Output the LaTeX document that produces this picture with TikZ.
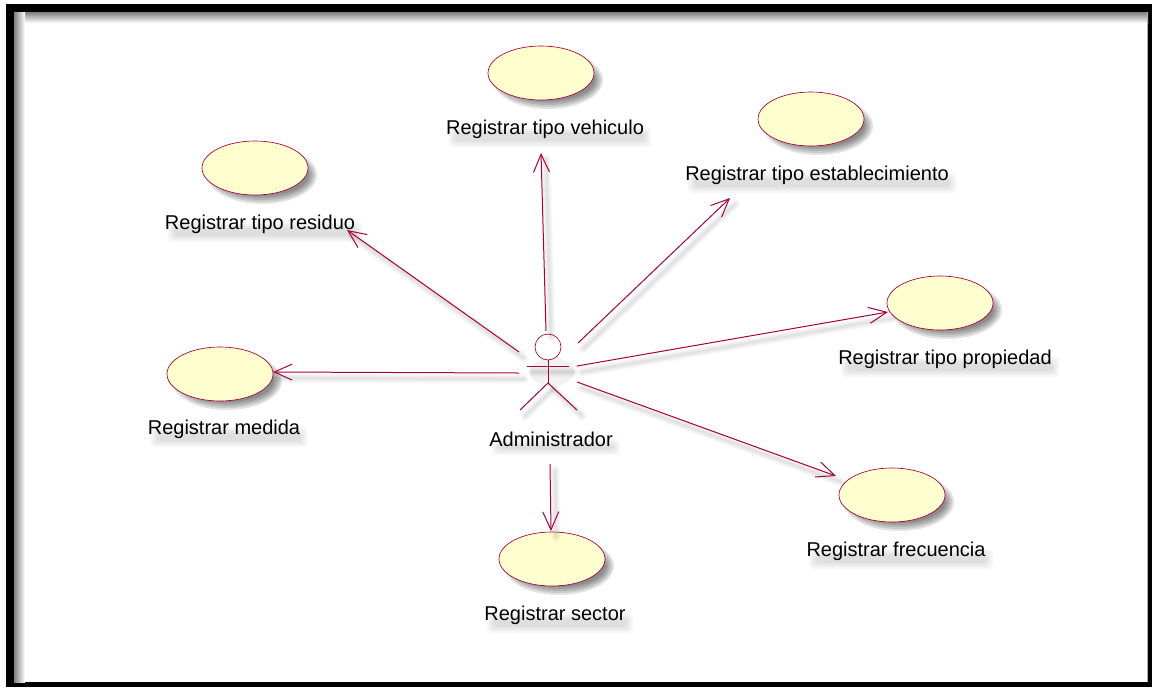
\documentclass[tikz,border=0pt]{standalone}
\usepackage{fontspec}
\setmainfont{Liberation Sans}
\usetikzlibrary{arrows.meta,shapes.geometric,calc}
\definecolor{umlline}{HTML}{A80036}
\definecolor{umlfill}{HTML}{FEFECE}
\tikzset{
  x=0.75pt,y=-0.75pt,
  usecase/.style={ellipse,draw=umlline,line width=0.5pt,fill=umlfill,minimum width=79.5pt,minimum height=40.5pt,inner sep=0pt},
  lab/.style={inner sep=0pt,font=\fontsize{15pt}{17pt}\selectfont,text=black},
  assoc/.style={draw=umlline,line width=0.75pt,-{Straight Barb[length=13.5pt,width=12pt,line width=0.75pt]}},
  stick/.style={draw=umlline,line width=0.75pt},
  soft/.style={draw=black,opacity=0.025,line cap=round}
}
\newcommand{\softline}[2]{%
  \foreach \w in {1,2.5,4,5.5,7}{\draw[soft,line width=\w pt] ([shift={(5,6)}]#1) -- ([shift={(5,6)}]#2);}}
\newcommand{\softoval}[1]{%
  \foreach \d in {0,-2,-4,-6,-8}{\fill[black,opacity=0.11] ($(#1)+(7,7)$) ellipse [x radius={53+\d+2},y radius={27+\d+2}];}}
\newcommand{\softtext}[1]{%
  \foreach \d in {-1,1,3,5}{\fill[black,opacity=0.03,rounded corners=3pt] ($(#1.north west)+({4+\d},{8+\d})$) rectangle ($(#1.south east)+({6-\d},{7-\d})$);}}
\begin{document}
\begin{tikzpicture}
\useasboundingbox (0,0) rectangle (1152,687);
\fill[white] (0,0) rectangle (1152,687);
% frame
\fill[black] (6,4) rectangle (1152,687);
\fill[white] (14,12) rectangle (1148,682);
\shade[top color=black!50,bottom color=white] (14,12) rectangle (1148,23);
\shade[left color=black!50,right color=white] (14,12) rectangle (25,682);
\fill[black!30] (1147,12) rectangle (1148,682);

% use cases
\foreach \n/\x/\y in {veh/541/73,est/811/119,res/255/168,pro/940/303,med/220/374,fre/892/495,sec/552/559}{
  \coordinate (s\n) at (\x,\y);
  \softoval{s\n}
  \node[usecase] (\n) at (\x,\y) {};
}

% labels
\node[lab] (lveh) at (545,129.5) {Registrar tipo vehiculo};
\node[lab] (lest) at (817,175.5) {Registrar tipo establecimiento};
\node[lab] (lres) at (260,224.5) {Registrar tipo residuo};
\node[lab] (lpro) at (945,359.5) {Registrar tipo propiedad};
\node[lab] (lmed) at (224,429.5) {Registrar medida};
\node[lab] (lfre) at (896,551.5) {Registrar frecuencia};
\node[lab] (lsec) at (555,615.5) {Registrar sector};
\node[lab] (ladm) at (551,439.5) {Administrador};
\foreach \n in {lveh,lest,lres,lpro,lmed,lfre,lsec,ladm}{\softtext{\n}}

% actor
\node[circle,draw=umlline,line width=0.5pt,fill=white,minimum size=19.5pt,inner sep=0pt] (head) at (548,347) {};
\coordinate (hip) at (548,383);
\coordinate (armL) at (527,366);
\coordinate (armR) at (569,366);
\coordinate (footL) at (520,410);
\coordinate (footR) at (577,410);
\fill[black,opacity=0.05] (552,372) ellipse [x radius=22,y radius=14];
\softline{armL}{armR}
\softline{hip}{footL}
\softline{hip}{footR}
\draw[stick] (head.south) -- (hip);
\draw[stick] (armL) -- (armR);
\draw[stick] (footL) -- (hip) -- (footR);

% connector free ends
\coordinate (a1) at (546,331);
\coordinate (t1) at (541,153);
\coordinate (a2) at (578,343);
\coordinate (t2) at (730,198);
\coordinate (a3) at (519,352);
\coordinate (t3) at (347,230);
\coordinate (a4) at (577,366);
\coordinate (t4) at (888,312);
\coordinate (a5) at (519,373);
\coordinate (t5) at (273,372);
\coordinate (a6) at (577,382);
\coordinate (t6) at (836,476);
\coordinate (a7) at (550,464);
\coordinate (t7) at (551,531);
\foreach \i in {1,...,7}{
  \softline{a\i}{t\i}
  \draw[assoc] (a\i) -- (t\i);
}
\end{tikzpicture}
\end{document}
